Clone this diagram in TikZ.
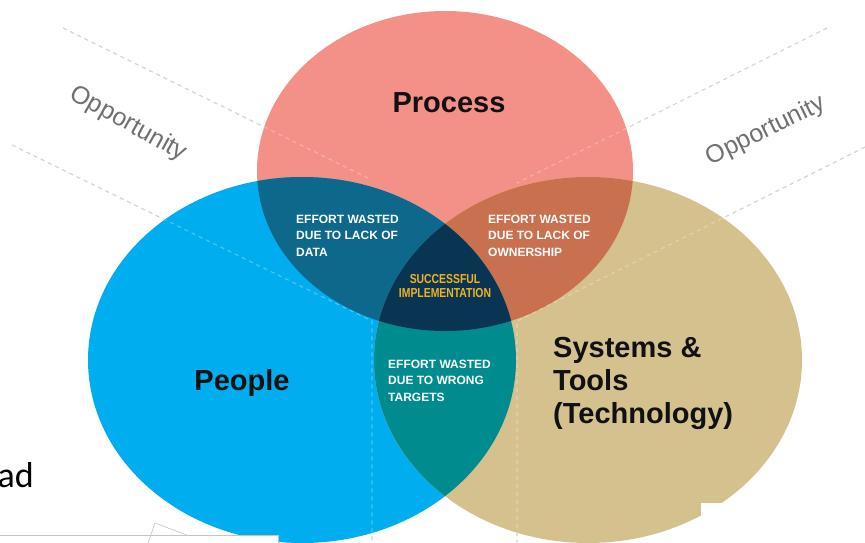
\documentclass[tikz,border=0pt]{standalone}
\usepackage{fontspec}
\setmainfont{Liberation Sans}
\newfontfamily\carlito{Carlito}
\definecolor{procC}{HTML}{F39188}
\definecolor{peopC}{HTML}{00AEEF}
\definecolor{sysC}{HTML}{D4C18E}
\definecolor{ppC}{HTML}{0E688C}
\definecolor{psC}{HTML}{C9704F}
\definecolor{lsC}{HTML}{008C8E}
\definecolor{midC}{HTML}{0A3552}
\definecolor{goldC}{HTML}{F0B41E}
\definecolor{guideC}{HTML}{C4C4C4}
\definecolor{oppC}{HTML}{707070}
\definecolor{labC}{HTML}{111111}
\tikzset{
  ellP/.style={insert path={(445,171) ellipse [x radius=188pt, y radius=160pt]}},
  ellL/.style={insert path={(302,360) ellipse [x radius=214pt, y radius=183pt]}},
  ellS/.style={insert path={(588,360) ellipse [x radius=214pt, y radius=183pt]}},
  guide/.style={draw=guideC, line width=1.1pt, dash pattern=on 4pt off 4pt},
  guideover/.style={draw=white, opacity=0.3, line width=1.1pt, dash pattern=on 4pt off 4pt},
  biglab/.style={text=labC, font=\bfseries\fontsize{29}{33}\selectfont, inner sep=0pt},
  wtext/.style={text=white, font=\bfseries\fontsize{12}{16.5}\selectfont, align=left, inner sep=0pt, anchor=base west},
  goldtxt/.style={text=goldC, font=\bfseries\fontsize{13}{14}\selectfont, inner sep=0pt, anchor=base, xscale=0.8},
  opp/.style={text=oppC, font=\fontsize{25}{28}\selectfont, inner sep=0pt},
}
\begin{document}
\begin{tikzpicture}[x=1pt,y=-1pt]
\useasboundingbox (0,0) rectangle (865,542);
\fill[white] (0,0) rectangle (865,542);
% guide lines
\coordinate (ulA) at (63,28);  \coordinate (ulB) at (372,180);
\coordinate (urA) at (827,28); \coordinate (urB) at (517,183);
\coordinate (llA) at (12,145); \coordinate (llB) at (372,321); \coordinate (llC) at (372,542);
\coordinate (lrA) at (865,147); \coordinate (lrB) at (517,321); \coordinate (lrC) at (517,542);
\path[guide] (ulA) -- (ulB);
\path[guide] (urA) -- (urB);
\path[guide] (llA) -- (llB) -- (llC);
\path[guide] (lrA) -- (lrB) -- (lrC);
% circles
\fill[procC, ellP];
\fill[peopC, ellL];
\fill[sysC, ellS];
\begin{scope}\clip[ellP]; \fill[ppC, ellL]; \end{scope}
\begin{scope}\clip[ellP]; \fill[psC, ellS]; \end{scope}
\begin{scope}\clip[ellL]; \fill[lsC, ellS]; \end{scope}
\begin{scope}\clip[ellP]; \clip[ellL]; \fill[midC, ellS]; \end{scope}
% guide lines seen through the circles
\path[guideover] (ulA) -- (ulB);
\path[guideover] (urA) -- (urB);
\path[guideover] (llA) -- (llB) -- (llC);
\path[guideover] (lrA) -- (lrB) -- (lrC);
% labels
\node[biglab, anchor=base] (proc) at (449,112) {Process};
\node[biglab, anchor=base] (peop) at (242,390) {People};
\node[biglab, anchor=base west] (sys1) at (553,357) {Systems \&};
\node[biglab, anchor=base west] (sys2) at (553,390) {Tools};
\node[biglab, anchor=base west] (sys3) at (553,423) {(Technology)};
\node[wtext] (data) at (296,256) {EFFORT WASTED\\DUE TO LACK OF\\DATA};
\node[wtext] (own) at (488,256) {EFFORT WASTED\\DUE TO LACK OF\\OWNERSHIP};
\node[wtext] (targ) at (388,401) {EFFORT WASTED\\DUE TO WRONG\\TARGETS};
\node[goldtxt] (succ) at (445,283) {SUCCESSFUL};
\node[goldtxt] (impl) at (445,297) {IMPLEMENTATION};
\node[opp, rotate=-29] (oppL) at (128.5,124) {Opportunity};
\node[opp, rotate=26] (oppR) at (766,131) {Opportunity};
% slide leftovers
\node[anchor=base east, inner sep=0pt, font=\carlito\fontsize{36}{40}\selectfont] (ad) at (34,487) {ad};
\fill[white] (701,503) rectangle (866,543);
\filldraw[fill=white, draw=guideC, line width=0.6pt] (-2,535) rectangle (278,545);
\draw[guideC, line width=0.6pt] (148,543) -- (155,523) -- (187,535);
\end{tikzpicture}
\end{document}
